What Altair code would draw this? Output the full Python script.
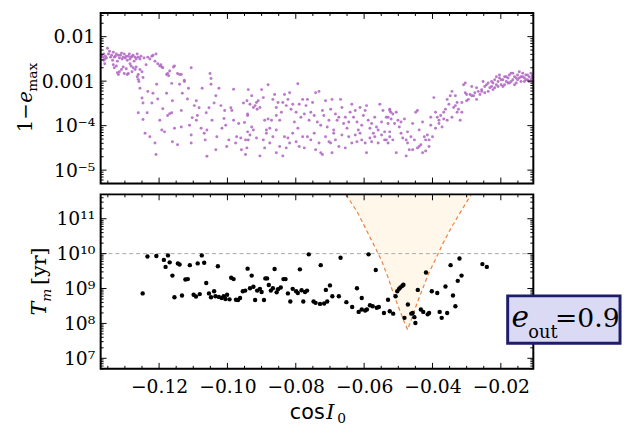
import altair as alt
import pandas as pd

# ---------------- data (cos I0 , log10 value) ----------------
# top panel: 1 - e_max  (stored as log10)
top_pts_a = [(-0.1368,-2.42),(-0.1365,-2.46),(-0.1362,-2.39),(-0.1359,-2.50),(-0.1357,-2.44),(-0.1354,-2.48),(-0.1362,-2.53),(-0.1348,-2.39),(-0.1345,-2.33),(-0.1351,-2.26),(-0.1342,-2.46),(-0.1339,-2.42),(-0.1336,-2.53),(-0.1334,-2.35),(-0.1331,-2.46),(-0.1328,-2.44),(-0.1325,-2.39),(-0.1322,-2.55),(-0.1319,-2.42),(-0.1316,-2.48),(-0.1313,-2.42),(-0.1310,-2.37),(-0.1308,-2.50),(-0.1305,-2.46),(-0.1302,-2.39),(-0.1299,-2.48),(-0.1296,-2.44),(-0.1293,-2.53),(-0.1290,-2.44),(-0.1287,-2.39),(-0.1285,-2.50),(-0.1282,-2.46),(-0.1279,-2.44),(-0.1276,-2.42),(-0.1273,-2.55),(-0.1270,-2.46),(-0.1267,-2.50),(-0.1264,-2.39),(-0.1261,-2.46),(-0.1256,-2.50),(-0.1253,-2.44),
             (-0.1359,-2.61),(-0.1334,-2.63),(-0.1331,-2.70),(-0.1325,-2.66),(-0.1322,-2.81),(-0.1319,-2.85),(-0.1316,-2.79),(-0.1310,-2.74),(-0.1305,-2.68),(-0.1302,-2.83),(-0.1296,-2.72),(-0.1293,-2.85),(-0.1290,-2.83),(-0.1285,-2.61),(-0.1282,-2.66),(-0.1279,-2.79),(-0.1276,-2.70),(-0.1270,-2.74),(-0.1267,-2.68),(-0.1264,-2.90),(-0.1261,-2.85),(-0.1259,-3.01),(-0.1256,-2.74),(-0.1250,-2.79),(-0.1247,-2.92),
             (-0.1244,-2.48),(-0.1238,-2.63),(-0.1233,-2.46),(-0.1227,-2.50),(-0.1221,-2.44),(-0.1218,-2.42),(-0.1212,-2.55),(-0.1209,-2.39),(-0.1204,-2.61),(-0.1198,-2.66),(-0.1195,-2.63),(-0.1192,-2.68),(-0.1189,-2.70),(-0.1178,-2.85),(-0.1175,-2.83),(-0.1172,-2.88),(-0.1169,-2.77),(-0.1163,-3.05),(-0.1158,-2.68),(-0.1155,-2.66),(-0.1146,-2.83),(-0.1140,-2.85),(-0.1135,-2.85),(-0.1126,-2.98),(-0.1106,-2.70),(-0.1051,-2.83),(-0.1048,-2.94)]
top_pts_b = [(-0.1261,-2.96),(-0.1256,-3.16),(-0.1250,-3.38),(-0.1247,-3.49),(-0.1261,-3.71),(-0.1247,-3.86),(-0.1241,-4.17),(-0.1235,-3.71),(-0.1233,-3.23),(-0.1227,-4.25),(-0.1221,-3.49),(-0.1218,-3.27),(-0.1212,-4.39),(-0.1209,-4.65),(-0.1207,-3.07),(-0.1204,-3.40),(-0.1198,-3.88),(-0.1192,-4.10),(-0.1189,-3.62),(-0.1184,-4.14),(-0.1178,-3.27),(-0.1175,-3.77),(-0.1169,-3.73),(-0.1163,-3.71),(-0.1161,-4.36),(-0.1161,-3.44),(-0.1155,-4.06),(-0.1146,-4.43),(-0.1140,-3.07),(-0.1135,-3.66),(-0.1135,-4.03),(-0.1132,-3.27),(-0.1126,-3.01),(-0.1117,-3.40),(-0.1114,-3.16),(-0.1111,-3.99),(-0.1106,-4.21),(-0.1106,-4.39),(-0.1103,-3.82),(-0.1097,-3.55),(-0.1091,-3.44),(-0.1091,-3.88),(-0.1088,-3.77),(-0.1083,-3.60),(-0.1077,-4.06),(-0.1074,-3.16),(-0.1068,-4.17),(-0.1065,-4.32),(-0.1062,-3.71),(-0.1060,-4.69),(-0.1060,-4.10),(-0.1054,-3.60),(-0.1048,-3.07),(-0.1045,-3.88),(-0.1039,-3.49),(-0.1034,-3.33),(-0.1034,-4.54),(-0.1031,-4.25),(-0.1025,-3.16),(-0.1019,-3.55),(-0.1016,-4.06),(-0.1010,-3.84),(-0.1008,-3.66),(-0.1005,-3.99),(-0.1002,-4.47),(-0.0996,-4.32),(-0.0990,-3.60),(-0.0987,-3.66),(-0.0982,-3.18),(-0.0982,-3.88),(-0.0976,-4.39),(-0.0973,-4.25),(-0.0967,-3.95),(-0.0961,-4.28),(-0.0959,-4.54),(-0.0953,-3.49),(-0.0950,-3.93),(-0.0947,-4.32),(-0.0941,-4.14),(-0.0947,-4.65),(-0.0941,-3.77)]
top_pts_c = [(-0.0943,-3.44),(-0.0939,-3.19),(-0.0941,-3.74),(-0.0934,-3.52),(-0.0929,-3.33),(-0.0924,-3.59),(-0.0919,-3.55),(-0.0915,-3.48),(-0.0913,-3.63),(-0.0910,-3.44),(-0.0905,-3.59),(-0.0900,-3.19),(-0.0895,-3.37),(-0.0891,-3.88),(-0.0886,-4.10),(-0.0881,-3.85),(-0.0876,-4.06),(-0.0871,-3.88),(-0.0867,-3.41),(-0.0862,-3.30),(-0.0857,-3.59),(-0.0852,-3.48),(-0.0857,-3.77),(-0.0847,-3.88),(-0.0842,-3.70),(-0.0838,-3.48),(-0.0833,-3.30),(-0.0828,-3.55),(-0.0823,-3.41),(-0.0818,-3.26),(-0.0881,-3.08),(-0.0794,-3.06),(-0.0814,-3.63),(-0.0809,-3.52),(-0.0804,-3.92),(-0.0799,-3.70),(-0.0794,-4.06),(-0.0790,-3.52),(-0.0785,-3.81),(-0.0780,-3.41),(-0.0775,-3.74),(-0.0770,-3.55),(-0.0766,-3.41),(-0.0761,-3.88),(-0.0756,-3.70),(-0.0751,-3.48),(-0.0746,-3.77),(-0.0742,-3.26),(-0.0737,-3.92),(-0.0732,-3.23),(-0.0727,-3.99),(-0.0722,-3.66),(-0.0718,-3.77),(-0.0713,-3.44),(-0.0708,-4.03),(-0.0703,-3.88),(-0.0698,-3.63),(-0.0694,-3.41),(-0.0689,-4.10),(-0.0684,-3.74),(-0.0679,-3.88),(-0.0674,-3.81),(-0.0669,-3.41),(-0.0665,-3.59),(-0.0660,-3.95),(-0.0655,-3.81),(-0.0650,-4.06),(-0.0645,-3.92),(-0.0641,-3.70),(-0.0636,-3.52),(-0.0631,-3.81),(-0.0626,-3.66),(-0.0621,-3.92),(-0.0617,-4.10),(-0.0612,-3.59),(-0.0607,-3.99),(-0.0602,-3.77),(-0.0597,-3.66),(-0.0593,-3.55),(-0.0588,-3.88),(-0.0583,-4.06),(-0.0578,-3.95),(-0.0573,-4.17),(-0.0569,-3.81),(-0.0564,-4.03),(-0.0559,-4.10),(-0.0554,-3.52),(-0.0549,-3.92),(-0.0545,-3.66),(-0.0540,-4.14),(-0.0535,-3.81),(-0.0530,-3.95),(-0.0525,-3.63),(-0.0522,-3.70)]
top_pts_d = [(-0.0943,-4.50),(-0.0939,-4.32),(-0.0934,-4.21),(-0.0929,-4.03),(-0.0924,-4.10),(-0.0915,-4.28),(-0.0905,-4.68),(-0.0895,-4.32),(-0.0891,-4.50),(-0.0886,-4.17),(-0.0876,-4.39),(-0.0867,-4.25),(-0.0857,-4.10),(-0.0857,-4.61),(-0.0847,-4.47),(-0.0838,-4.68),(-0.0833,-4.25),(-0.0828,-4.50),(-0.0823,-4.28),(-0.0818,-4.39),(-0.0809,-4.17),(-0.0799,-4.36),(-0.0790,-4.47),(-0.0780,-4.25),(-0.0775,-4.50),(-0.0766,-4.25),(-0.0756,-4.32),(-0.0746,-4.17),(-0.0742,-4.54),(-0.0732,-4.39),(-0.0727,-4.61),(-0.0722,-4.65),(-0.0713,-4.25),(-0.0703,-4.36),(-0.0698,-4.39),(-0.0694,-4.61),(-0.0689,-4.17),(-0.0684,-4.32),(-0.0674,-4.47),(-0.0665,-4.21),(-0.0655,-4.50),(-0.0645,-4.25),(-0.0636,-4.39),(-0.0626,-4.21),(-0.0621,-4.36),(-0.0612,-4.17),(-0.0607,-4.32),(-0.0597,-4.39),(-0.0593,-4.61),(-0.0583,-4.28),(-0.0578,-4.36),(-0.0569,-4.25),(-0.0559,-4.39),(-0.0549,-4.21),(-0.0540,-4.32),(-0.0530,-4.39),(-0.0525,-4.25)]
top_pts_e = [(-0.0530,-3.81),(-0.0525,-3.66),(-0.0521,-3.85),(-0.0516,-3.74),(-0.0511,-3.95),(-0.0506,-3.70),(-0.0501,-3.88),(-0.0497,-4.03),(-0.0492,-4.17),(-0.0487,-4.28),(-0.0482,-3.85),(-0.0477,-4.32),(-0.0473,-4.14),(-0.0468,-4.54),(-0.0463,-4.25),(-0.0458,-3.95),(-0.0453,-4.32),(-0.0449,-3.70),(-0.0444,-4.50),(-0.0439,-4.10),(-0.0434,-4.43),(-0.0429,-3.92),(-0.0424,-4.25),(-0.0420,-4.57),(-0.0415,-4.21),(-0.0410,-4.32),(-0.0405,-3.99),(-0.0525,-4.14),(-0.0516,-4.32),(-0.0506,-4.61),(-0.0492,-3.92),(-0.0477,-4.68),(-0.0473,-4.39),(-0.0458,-4.54),(-0.0439,-4.47),(-0.0429,-4.61),(-0.0410,-4.47),(-0.0420,-4.32),(-0.0400,-4.25),(-0.0405,-3.81),(-0.0444,-3.66),(-0.0535,-4.32)]
top_pts_f = [(-0.0396,-3.37),(-0.0391,-3.70),(-0.0386,-3.81),(-0.0381,-3.88),(-0.0376,-3.77),(-0.0372,-4.03),(-0.0367,-3.85),(-0.0362,-3.63),(-0.0357,-3.88),(-0.0352,-3.52),(-0.0348,-3.33),(-0.0343,-3.23),(-0.0338,-3.59),(-0.0333,-3.55),(-0.0328,-3.70),(-0.0324,-3.63),(-0.0319,-3.88),(-0.0314,-3.48),(-0.0309,-3.08),(-0.0304,-3.26),(-0.0300,-3.44),(-0.0295,-3.41),(-0.0290,-3.30),(-0.0285,-3.12),(-0.0280,-3.33),(-0.0276,-3.26),(-0.0271,-3.41),(-0.0266,-3.23),(-0.0261,-3.30),(-0.0256,-3.19),(-0.0252,-3.01),(-0.0247,-3.12),(-0.0391,-4.06),(-0.0381,-3.95),(-0.0367,-3.70),(-0.0357,-3.41),(-0.0343,-3.81),(-0.0328,-3.48),(-0.0314,-3.70),(-0.0300,-3.30),(-0.0285,-3.33),(-0.0271,-3.15),(-0.0256,-3.23),(-0.0247,-3.26),(-0.0304,-3.04),(-0.0333,-3.33)]
top_pts_g = [(-0.0242,-3.08),(-0.0237,-3.04),(-0.0232,-3.15),(-0.0227,-3.12),(-0.0223,-3.04),(-0.0218,-2.97),(-0.0213,-2.90),(-0.0208,-3.01),(-0.0204,-2.93),(-0.0199,-3.08),(-0.0194,-2.97),(-0.0189,-2.90),(-0.0184,-3.01),(-0.0179,-2.93),(-0.0175,-2.86),(-0.0170,-2.82),(-0.0165,-2.97),(-0.0160,-2.90),(-0.0155,-3.04),(-0.0151,-2.86),(-0.0146,-2.79),(-0.0141,-2.90),(-0.0136,-2.82),(-0.0131,-2.93),(-0.0127,-2.86),(-0.0122,-2.97),(-0.0117,-2.90),(-0.0112,-2.82),(-0.0107,-2.93),(-0.0108,-2.86),(-0.0237,-3.23),(-0.0227,-3.01),(-0.0218,-3.15),(-0.0208,-3.12),(-0.0199,-2.97),(-0.0189,-3.08),(-0.0179,-3.04),(-0.0170,-3.01),(-0.0160,-3.08),(-0.0151,-2.97),(-0.0141,-3.01),(-0.0131,-3.01),(-0.0122,-2.86),(-0.0112,-2.97),(-0.0108,-3.01),(-0.0223,-3.19),(-0.0204,-2.86),(-0.0184,-2.90),(-0.0165,-2.82),(-0.0146,-2.93),(-0.0127,-2.97),(-0.0107,-2.90),(-0.0213,-3.08),(-0.0194,-3.12),(-0.0175,-3.04),(-0.0155,-2.93),(-0.0136,-2.90),(-0.0117,-3.01),(-0.0109,-2.93)]

# bottom panel: T_m [yr] (stored as log10)
bot_pts_a = [(-0.1248,8.86),(-0.1234,9.92),(-0.1208,9.93),(-0.1186,9.82),(-0.1181,9.62),(-0.1174,9.95),(-0.1169,9.75),(-0.1161,9.37),(-0.1155,8.75),(-0.1145,9.72),(-0.1140,9.69),(-0.1133,8.80),(-0.1123,9.26),(-0.1116,9.27),(-0.1110,9.67),(-0.1099,8.82),(-0.1092,8.77),(-0.1087,9.72),(-0.1081,8.84),(-0.1075,9.95),(-0.1068,9.74),(-0.1062,9.16),(-0.1054,8.86),(-0.1048,8.75),(-0.1039,8.92),(-0.1035,8.78),(-0.1028,9.64),(-0.1025,8.76),(-0.1017,8.73),(-0.1011,8.78),(-0.1006,8.70),(-0.1001,8.82),(-0.0994,8.69),(-0.0989,9.31),(-0.0982,9.27),(-0.0975,8.68),(-0.0969,8.67),(-0.0963,8.73),(-0.0955,8.92),(-0.0948,8.94),(-0.0941,9.57),(-0.0934,9.01),(-0.0929,9.37),(-0.0924,9.05),(-0.0919,8.67),(-0.0913,8.94),(-0.0905,8.99),(-0.0900,8.90),(-0.0893,8.67),(-0.0889,9.29),(-0.0884,9.29),(-0.0879,9.10),(-0.0873,8.94),(-0.0867,9.01),(-0.0862,9.56),(-0.0856,8.89),(-0.0852,8.98),(-0.0844,9.03),(-0.0836,9.27),(-0.0830,9.27),(-0.0823,8.86),(-0.0816,8.63),(-0.0809,8.99),(-0.0799,8.92),(-0.0794,8.87),(-0.0788,9.55),(-0.0783,8.95),(-0.0778,8.63),(-0.0773,8.90),(-0.0767,8.94),(-0.0762,9.98),(-0.0748,8.63),(-0.0742,8.59)]
bot_pts_b = [(-0.0727,9.67),(-0.0729,8.56),(-0.0717,8.57),(-0.0708,8.63),(-0.0712,8.96),(-0.0700,9.09),(-0.0693,8.78),(-0.0674,8.78),(-0.0669,9.88),(-0.0652,8.61),(-0.0635,8.47),(-0.0621,9.01),(-0.0616,8.33),(-0.0607,8.73),(-0.0607,8.40),(-0.0597,8.37),(-0.0592,8.40),(-0.0587,9.98),(-0.0583,8.52),(-0.0575,8.49),(-0.0566,9.53),(-0.0563,8.45),(-0.0557,8.47),(-0.0542,8.30),(-0.0530,8.68),(-0.0525,8.35),(-0.0515,8.28),(-0.0508,8.78),(-0.0503,8.92),(-0.0498,8.99),(-0.0494,9.03),(-0.0488,9.08),(-0.0485,9.11),(-0.0482,8.16),(-0.0472,8.54),(-0.0462,8.28),(-0.0453,8.18),(-0.0450,8.01),(-0.0458,8.30),(-0.0443,8.96),(-0.0434,8.40),(-0.0427,8.33),(-0.0419,9.46),(-0.0414,8.26),(-0.0410,8.30),(-0.0402,8.92),(-0.0386,8.87),(-0.0379,8.33),(-0.0373,8.16),(-0.0362,9.06),(-0.0357,8.30),(-0.0347,9.67),(-0.0340,8.80),(-0.0333,8.49),(-0.0326,9.22),(-0.0321,9.86),(-0.0315,9.37),(-0.0254,9.70),(-0.0241,9.62)]

# V-shaped boundary curve (log10 T_m)
curve_pts = [(-0.0653,11.69),(-0.0621,11.21),(-0.0592,10.65),(-0.0569,10.20),(-0.0549,9.80),(-0.0529,9.29),(-0.0512,8.79),(-0.0494,8.33),(-0.0483,8.05),(-0.0473,7.82),(-0.0460,8.16),(-0.0445,8.59),(-0.0428,9.01),(-0.0411,9.44),(-0.0390,9.86),(-0.0370,10.28),(-0.0347,10.71),(-0.0318,11.19),(-0.0287,11.69)]
threshold_tm = [1e10]

# axis ticks / labels
x_major = [-0.12, -0.10, -0.08, -0.06, -0.04, -0.02]
x_minor = [-0.135, -0.13, -0.125, -0.115, -0.11, -0.105, -0.095, -0.09, -0.085, -0.075, -0.07, -0.065,
           -0.055, -0.05, -0.045, -0.035, -0.03, -0.025, -0.015]
top_major = [1e-5, 1e-4, 1e-3, 1e-2]
top_minor = [5e-6, 6e-6, 7e-6, 8e-6, 9e-6, 2e-5, 3e-5, 4e-5, 5e-5, 6e-5, 7e-5, 8e-5, 9e-5,
             2e-4, 3e-4, 4e-4, 5e-4, 6e-4, 7e-4, 8e-4, 9e-4, 2e-3, 3e-3, 4e-3, 5e-3, 6e-3, 7e-3, 8e-3, 9e-3,
             2e-2, 3e-2]
bot_major = [1e7, 1e8, 1e9, 1e10, 1e11]
bot_minor = [5e6, 6e6, 7e6, 8e6, 9e6, 2e7, 3e7, 4e7, 5e7, 6e7, 7e7, 8e7, 9e7,
             2e8, 3e8, 4e8, 5e8, 6e8, 7e8, 8e8, 9e8, 2e9, 3e9, 4e9, 5e9, 6e9, 7e9, 8e9, 9e9,
             2e10, 3e10, 4e10, 5e10, 6e10, 7e10, 8e10, 9e10, 2e11, 3e11, 4e11]

TOP_DOMAIN = [5e-6, 0.034]
BOT_DOMAIN = [5e6, 5e11]

# ---------------- layout / style ----------------
W, H_TOP, H_BOT = 439, 173, 177
SERIF = "DejaVu Serif"
SANS = "DejaVu Sans"
PURPLE = "#b26cc4"

xscale = alt.Scale(domain=[-0.1371, -0.0105], nice=False, zero=False)
top_scale = alt.Scale(type="log", domain=TOP_DOMAIN, nice=False)
bot_scale = alt.Scale(type="log", domain=BOT_DOMAIN, nice=False)

common_axis = dict(ticks=False, domain=False, grid=False, labelFont=SERIF, labelFontSize=19,
                   labelColor="black", labelFlush=False, labelOverlap=False, title=None)
x_axis_bot = alt.Axis(values=x_major, format=".2f", labelPadding=9, **common_axis)
top_y_axis = alt.Axis(values=top_major, labelPadding=6,
                      labelExpr="datum.value > 0.005 ? '0.01' : datum.value > 0.0005 ? '0.001' : "
                                "datum.value > 0.00005 ? '10⁻⁴' : '10⁻⁵'", **common_axis)
bot_y_axis = alt.Axis(values=bot_major, labelPadding=6,
                      labelExpr="'10' + (datum.value > 5e10 ? '¹¹' : datum.value > 5e9 ? '¹⁰' : "
                                "datum.value > 5e8 ? '⁹' : datum.value > 5e7 ? '⁸' : '⁷')", **common_axis)

one = pd.DataFrame({"k": [0]})


def to_df(pairs):
    return pd.DataFrame({"cos": [p[0] for p in pairs], "val": [10 ** p[1] for p in pairs]})


def frame_layers(yscale, yaxis, xaxis, H, ymaj, ymin):
    out = []
    for vals, L in ((x_major, 6), (x_minor, 3)):
        d = pd.DataFrame({"v": vals})
        ex = alt.X("v:Q", scale=xscale, axis=xaxis)
        out.append(alt.Chart(d).mark_rule(color="black", strokeWidth=1).encode(
            x=ex, y=alt.value(H), y2=alt.value(H - L)))
        out.append(alt.Chart(d).mark_rule(color="black", strokeWidth=1).encode(
            x=ex, y=alt.value(0), y2=alt.value(L)))
    for vals, L in ((ymaj, 6), (ymin, 3)):
        d = pd.DataFrame({"v": vals})
        ey = alt.Y("v:Q", scale=yscale, axis=yaxis)
        out.append(alt.Chart(d).mark_rule(color="black", strokeWidth=1).encode(
            y=ey, x=alt.value(0), x2=alt.value(L)))
        out.append(alt.Chart(d).mark_rule(color="black", strokeWidth=1).encode(
            y=ey, x=alt.value(W), x2=alt.value(W - L)))
    out.append(alt.Chart(one).mark_rect(fill="transparent", stroke="black", strokeWidth=2).encode(
        x=alt.value(0), x2=alt.value(W), y=alt.value(0), y2=alt.value(H)))
    return out


def label(text, x, y, size, font=SERIF, style="normal", angle=0, color="black"):
    return alt.Chart(one).mark_text(text=text, font=font, fontSize=size, fontStyle=style,
                                    angle=angle, align="left", baseline="alphabetic",
                                    color=color).encode(x=alt.value(x), y=alt.value(y))


# ---------------- top panel ----------------
top_df = to_df(top_pts_a + top_pts_b + top_pts_c + top_pts_d + top_pts_e + top_pts_f + top_pts_g)
top_points = alt.Chart(top_df).mark_circle(size=9, color=PURPLE, opacity=0.9).encode(
    x=alt.X("cos:Q", scale=xscale, axis=None),
    y=alt.Y("val:Q", scale=top_scale, axis=top_y_axis))

top = alt.layer(
    top_points,
    *frame_layers(top_scale, top_y_axis, None, H_TOP, top_major, top_minor),
    label("1−", -70, 121, 20, angle=270),
    label("e", -70, 91, 20, style="italic", angle=270),
    label("max", -65, 80, 14, angle=270),
).properties(width=W, height=H_TOP)

# ---------------- bottom panel ----------------
curve_df = to_df(curve_pts)
curve_df["top"] = BOT_DOMAIN[1]
area = alt.Chart(curve_df).mark_area(color="#fff8ea", opacity=1, clip=True).encode(
    x=alt.X("cos:Q", scale=xscale, axis=x_axis_bot),
    y=alt.Y("val:Q", scale=bot_scale, axis=bot_y_axis),
    y2=alt.Y2("top:Q"))
curve = alt.Chart(curve_df).mark_line(color="#ec8040", strokeDash=[4, 3], strokeWidth=1.2, clip=True).encode(
    x=alt.X("cos:Q", scale=xscale, axis=x_axis_bot),
    y=alt.Y("val:Q", scale=bot_scale, axis=bot_y_axis))
thresh = alt.Chart(pd.DataFrame({"t": threshold_tm})).mark_rule(
    color="#a8a8a8", strokeDash=[4, 3], strokeWidth=1).encode(
    y=alt.Y("t:Q", scale=bot_scale, axis=bot_y_axis))
bot_points = alt.Chart(to_df(bot_pts_a + bot_pts_b)).mark_circle(size=20, color="black", opacity=1).encode(
    x=alt.X("cos:Q", scale=xscale, axis=x_axis_bot),
    y=alt.Y("val:Q", scale=bot_scale, axis=bot_y_axis))

box = alt.Chart(one).mark_rect(fill="#dadaf4", stroke="#1d1d6b", strokeWidth=3).encode(
    x=alt.value(413), x2=alt.value(527), y=alt.value(103), y2=alt.value(151))

bottom = alt.layer(
    area, thresh, curve, bot_points,
    *frame_layers(bot_scale, bot_y_axis, x_axis_bot, H_BOT, bot_major, bot_minor),
    box,
    label("e", 417, 135, 30, style="italic"),
    label("out", 434, 146, 18),
    label("=0.9", 461, 135, 27),
    label("T", -55, 123, 21, style="italic", angle=270),
    label("m", -50, 109, 14, style="italic", angle=270),
    label("[yr]", -55, 92, 21, angle=270),
    label("cos", 192, 228, 21, font=SANS),
    label("I", 229, 228, 21, style="italic"),
    label("0", 240, 232, 14),
).properties(width=W, height=H_BOT)

chart = alt.vconcat(top, bottom, spacing=7).properties(
    padding={"left": 7, "top": 0, "right": 0, "bottom": 0}
).configure_view(strokeWidth=0).configure(background="white")

chart.save("out.html", embed_options={"renderer": "svg", "actions": False})
